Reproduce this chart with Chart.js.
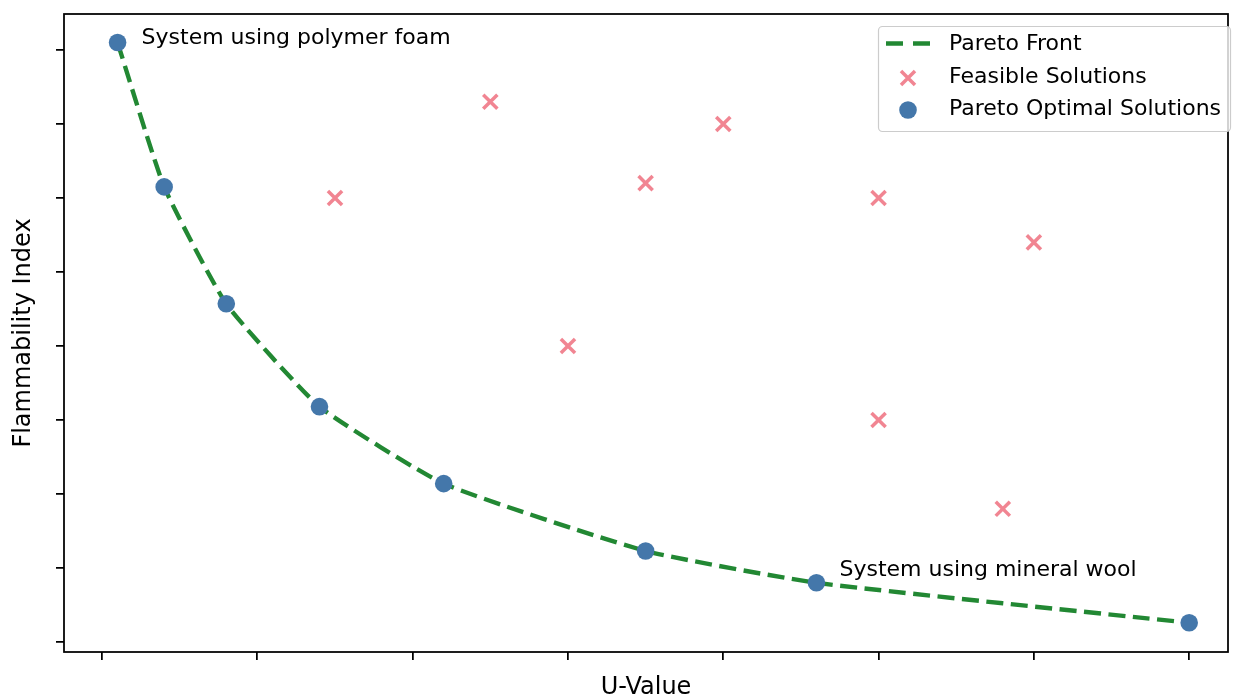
<!DOCTYPE html>
<html lang="en">
<head>
    <meta charset="UTF-8">
    <title>Pareto Front</title>
    <script src="https://cdn.jsdelivr.net/npm/chart.js"></script>
    <style>
        body { margin: 0; background: #fff; }
    </style>
</head>
<body>

<canvas id="paretoChart" width="1242" height="700"></canvas>

<script>
    // Data (axis units are arbitrary, no tick labels shown)
    const paretoU = [0.1, 0.4, 0.8, 1.4, 2.2, 3.5, 4.6, 7.0];
    const paretoF = [8.1, 6.15, 4.57, 3.18, 2.14, 1.23, 0.8, 0.26];
    const feasibleU = [1.5, 2.5, 3.0, 3.5, 4.0, 5.0, 5.0, 5.8, 6.0];
    const feasibleF = [6.0, 7.3, 4.0, 6.2, 7.0, 6.0, 3.0, 1.8, 5.4];
    const xTicks = [0, 1, 2, 3, 4, 5, 6, 7];
    const yTicks = [0, 1, 2, 3, 4, 5, 6, 7, 8];
    const seriesLabels = ['Pareto Front', 'Feasible Solutions', 'Pareto Optimal Solutions'];
    const noteTexts = ['System using polymer foam', 'System using mineral wool'];
    const notePointIndex = [0, 6];

    const FONT = '22px "DejaVu Sans"';
    const GREEN = '#228833', PINK = 'rgba(238,102,119,0.8)', BLUE = '#4477AA';

    const paretoPts = paretoU.map((u, i) => ({ x: u, y: paretoF[i] }));
    const feasiblePts = feasibleU.map((u, i) => ({ x: u, y: feasibleF[i] }));

    // frame, annotations and matplotlib-like legend
    const extras = {
        id: 'extras',
        afterDraw(chart) {
            const { ctx, chartArea: a, scales } = chart;
            ctx.save();
            ctx.strokeStyle = '#000';
            ctx.lineWidth = 1.76;
            ctx.strokeRect(a.left, a.top, a.right - a.left, a.bottom - a.top);

            // annotations
            ctx.font = FONT;
            ctx.fillStyle = '#000';
            ctx.textBaseline = 'alphabetic';
            const offs = [[24, 1], [23, -7]];
            noteTexts.forEach((t, k) => {
                const i = notePointIndex[k];
                const px = scales.x.getPixelForValue(paretoU[i]);
                const py = scales.y.getPixelForValue(paretoF[i]);
                ctx.fillText(t, px + offs[k][0], py + offs[k][1]);
            });

            // legend
            const lx = 878.5, ly = 26.5, lw = 352, lh = 105;
            ctx.beginPath();
            ctx.roundRect(lx, ly, lw, lh, 4);
            ctx.fillStyle = 'rgba(255,255,255,0.8)';
            ctx.fill();
            ctx.strokeStyle = '#cccccc';
            ctx.lineWidth = 1.2;
            ctx.stroke();

            const marks = [43.5, 78, 110];
            const texts = [44.5, 77, 109.5];
            const mx = 908;
            // line sample
            ctx.beginPath();
            ctx.setLineDash([17, 10]);
            ctx.strokeStyle = GREEN;
            ctx.lineWidth = 4.4;
            ctx.moveTo(886, marks[0]);
            ctx.lineTo(930, marks[0]);
            ctx.stroke();
            ctx.setLineDash([]);
            // cross sample
            const d = 7;
            ctx.beginPath();
            ctx.strokeStyle = PINK;
            ctx.lineWidth = 3.5;
            ctx.moveTo(mx - d, marks[1] - d); ctx.lineTo(mx + d, marks[1] + d);
            ctx.moveTo(mx - d, marks[1] + d); ctx.lineTo(mx + d, marks[1] - d);
            ctx.stroke();
            // circle sample
            ctx.beginPath();
            ctx.fillStyle = BLUE;
            ctx.arc(mx, marks[2], 8.8, 0, Math.PI * 2);
            ctx.fill();

            ctx.fillStyle = '#000';
            ctx.textBaseline = 'middle';
            seriesLabels.forEach((t, i) => ctx.fillText(t, 949, texts[i]));
            ctx.restore();
        }
    };

    const ctx = document.getElementById('paretoChart').getContext('2d');
    const paretoChart = new Chart(ctx, {
        type: 'scatter',
        data: {
            datasets: [{
                label: seriesLabels[0],
                data: paretoPts,
                showLine: true,
                borderColor: GREEN,
                borderWidth: 4.4,
                borderDash: [17, 7.5],
                tension: 0.15,
                pointRadius: 0,
                order: 3
            }, {
                label: seriesLabels[1],
                data: feasiblePts,
                pointStyle: 'crossRot',
                pointRadius: 10,
                borderColor: PINK,
                borderWidth: 3.5,
                order: 2
            }, {
                label: seriesLabels[2],
                data: paretoPts,
                pointStyle: 'circle',
                pointRadius: 8.8,
                backgroundColor: BLUE,
                borderColor: BLUE,
                borderWidth: 0,
                order: 1
            }]
        },
        options: {
            responsive: false,
            animation: false,
            layout: { padding: { top: 14, right: 14, left: 0, bottom: 0 } },
            plugins: {
                legend: { display: false },
                tooltip: { enabled: false }
            },
            scales: {
                x: {
                    type: 'linear',
                    min: -0.245,
                    max: 7.25,
                    afterBuildTicks: s => { s.ticks = xTicks.map(v => ({ value: v })); },
                    afterFit: s => { s.height = 48; },
                    ticks: { display: false, autoSkip: false },
                    grid: { drawOnChartArea: false, drawTicks: true, tickLength: 8, color: '#000', lineWidth: 1.76 },
                    border: { display: false },
                    title: {
                        display: true,
                        text: 'U-Value',
                        color: '#000',
                        font: { family: 'DejaVu Sans', size: 24 },
                        padding: { top: 0, bottom: -2 }
                    }
                },
                y: {
                    type: 'linear',
                    min: -0.135,
                    max: 8.486,
                    afterBuildTicks: s => { s.ticks = yTicks.map(v => ({ value: v })); },
                    afterFit: s => { s.width = 64; },
                    ticks: { display: false, autoSkip: false },
                    grid: { drawOnChartArea: false, drawTicks: true, tickLength: 8, color: '#000', lineWidth: 1.76 },
                    border: { display: false },
                    title: {
                        display: true,
                        text: 'Flammability Index',
                        color: '#000',
                        font: { family: 'DejaVu Sans', size: 24 },
                        padding: { top: 9, bottom: 0 }
                    }
                }
            }
        },
        plugins: [extras]
    });
</script>

</body>
</html>
